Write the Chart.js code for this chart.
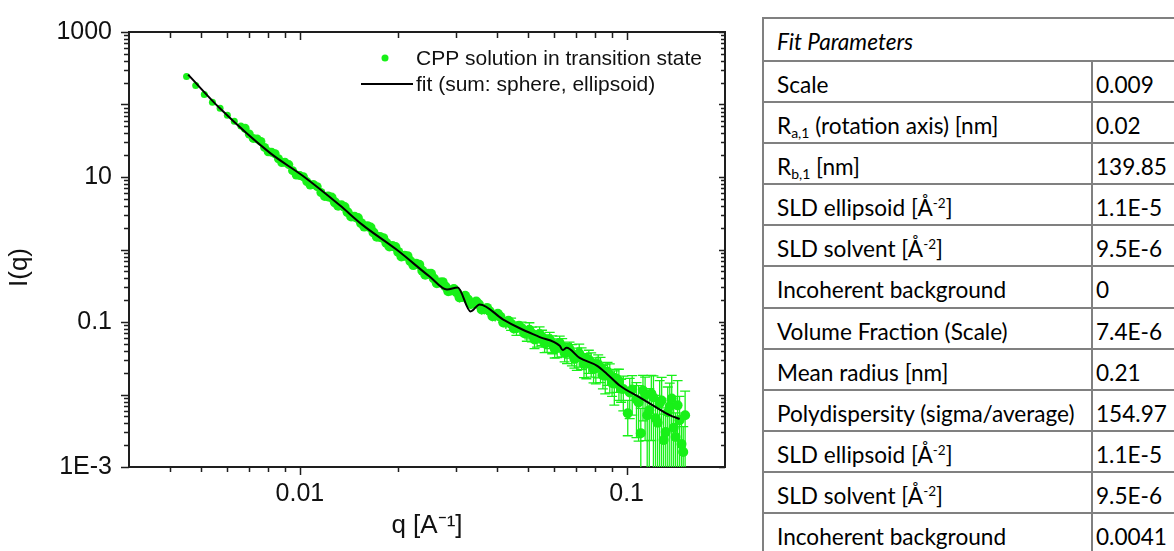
<!DOCTYPE html>
<html>
<head>
<meta charset="utf-8">
<script src="https://cdn.jsdelivr.net/npm/chart.js@4.4.1/dist/chart.umd.min.js"></script>
<style>
html,body{margin:0;padding:0;background:#fff;width:1174px;height:551px;overflow:hidden;}
#wrap{position:absolute;left:0;top:0;width:740px;height:551px;}
#tbl{position:absolute;left:762px;top:17px;display:grid;grid-template-columns:327px 120px;grid-template-rows:41px repeat(12,39.1px);gap:2px;padding:2px;background:#808080;font-family:Lato,'Noto Sans',sans-serif;font-size:22.6px;color:#000;}
#tbl div{background:#fff;padding:10px 0 0 13px;line-height:26px;white-space:nowrap;overflow:hidden;}
#tbl div.v{padding-left:3px;}
#tbl div.h{grid-column:1 / span 2;font-style:italic;}
#tbl sub{font-size:0.62em;vertical-align:-0.28em;line-height:0;}
#tbl sup{font-size:0.6em;vertical-align:0.6em;line-height:0;}
</style>
</head>
<body>
<div id="wrap"><canvas id="c" width="740" height="551"></canvas></div>
<div id="tbl"></div>
<script>
// ---------------- data ----------------
const qData = [
0.0045, 0.0048, 0.0051, 0.0054, 0.0057, 0.0060, 0.0063, 0.0066, 0.0068, 0.0070,
0.0072, 0.0074, 0.0076, 0.0078, 0.0080, 0.0082, 0.0084, 0.0086, 0.0088, 0.0090,
0.00925, 0.0095, 0.00975, 0.0100, 0.01025, 0.0105, 0.01075, 0.0110, 0.0113, 0.0116,
0.0119, 0.0122, 0.0125, 0.0128, 0.0131, 0.0134, 0.0137, 0.0140, 0.01435, 0.0147,
0.01505, 0.0154, 0.01575, 0.0161, 0.01645, 0.0168, 0.0172, 0.0176, 0.0180, 0.0184,
0.0188, 0.0192, 0.0196, 0.0200, 0.02045, 0.0209, 0.02135, 0.0218, 0.02225, 0.0227,
0.0232, 0.0237, 0.0242, 0.0247, 0.0252, 0.0257, 0.02625, 0.0268, 0.02735, 0.0279,
0.02845, 0.0290, 0.0296, 0.0302, 0.0308, 0.0314, 0.03205, 0.0327, 0.03335, 0.0340,
0.03465, 0.0353, 0.0360, 0.0367, 0.0374, 0.0381, 0.03885, 0.0396, 0.04035, 0.0411,
0.0419, 0.0427, 0.0435, 0.0443, 0.04515, 0.0460, 0.04685, 0.0477, 0.0486, 0.0495,
0.0504, 0.0513, 0.05225, 0.0532, 0.05415, 0.0551, 0.0561, 0.0571, 0.05815, 0.0592,
0.06025, 0.0613, 0.0624, 0.0635, 0.0646, 0.0657, 0.06685, 0.0680, 0.0692, 0.0704,
0.0716, 0.0728, 0.07405, 0.0753, 0.0766, 0.0779, 0.0792, 0.0805, 0.08185, 0.0832,
0.0846, 0.0860, 0.0874, 0.0888, 0.09025, 0.0917, 0.0932, 0.0947, 0.0962, 0.0977,
0.1008, 0.1022, 0.1040, 0.1072, 0.1088, 0.1105,
0.1122, 0.1139, 0.1156, 0.1173, 0.1190, 0.1208, 0.1226, 0.1244, 0.1262, 0.1280,
0.1298, 0.1317, 0.1336, 0.1355, 0.1374, 0.1393, 0.1412, 0.1432, 0.1452, 0.1472,
0.1490, 0.1510];
const iData = [
242.8, 182.9, 137.8, 107.2, 88.7, 71.2, 58.9, 50.4, 47.1, 39.2,
34.1, 33.5, 31.0, 25.6, 22.3, 21.9, 20.95, 17.84, 15.87, 15.98,
14.82, 12.23, 10.63, 10.45, 10.08, 8.65, 7.76, 7.87, 7.36, 6.12,
5.40, 5.40, 5.21, 4.47, 4.01, 4.07, 3.86, 3.26, 2.855, 2.83,
2.71, 2.31, 2.07, 2.10, 2.01, 1.712, 1.499, 1.486, 1.434, 1.231,
1.104, 1.120, 1.080, 0.927, 0.801, 0.818, 0.810, 0.688, 0.609, 0.636,
0.615, 0.510, 0.4476, 0.464, 0.4635, 0.397, 0.343, 0.350, 0.3546, 0.308,
0.2663, 0.272, 0.2844, 0.255, 0.2187, 0.2216, 0.2301, 0.2049, 0.1770, 0.1806,
0.1921, 0.1751, 0.1489, 0.1496, 0.1566, 0.1405, 0.1204, 0.1220, 0.1296, 0.1181,
0.0989, 0.0978, 0.1040, 0.0948, 0.0813, 0.0823, 0.0889, 0.0823, 0.0700, 0.0703,
0.0781, 0.0692, 0.0574, 0.0601, 0.0684, 0.0620, 0.0506, 0.0522, 0.0575, 0.0505,
0.0426, 0.0453, 0.0511, 0.0460, 0.0375, 0.0387, 0.0423, 0.0369, 0.0308, 0.0325,
0.0367, 0.0330, 0.0263, 0.0265, 0.0302, 0.0274, 0.0223, 0.0230, 0.0261, 0.0236,
0.01845, 0.0182, 0.02055, 0.0185, 0.01440, 0.01414, 0.01647, 0.01529, 0.01202, 0.01193,
0.00550, 0.01065, 0.01170, 0.00855, 0.00777, 0.00293,
0.01134, 0.00981, 0.00516, 0.00604, 0.01032, 0.00910, 0.00470, 0.00408, 0.00753, 0.00828,
0.00235, 0.00303, 0.00568, 0.00686, 0.00882, 0.00348, 0.00259, 0.00708, 0.00441, 0.00207,
0.00161, 0.00516];
const iErr = [
5, 4, 3, 2.5, 2, 1.6, 1.3, 1.1, 1.2, 0.9,
0.85, 0.8, 0.78, 0.6, 0.56, 0.5, 0.52, 0.45, 0.4, 0.4,
0.37, 0.35, 0.27, 0.4, 0.7, 0.35, 0.54, 0.35, 0.52, 0.3,
0.38, 0.3, 0.36, 0.25, 0.28, 0.25, 0.27, 0.2, 0.2, 0.2,
0.19, 0.17, 0.145, 0.16, 0.14, 0.14, 0.105, 0.12, 0.1, 0.1,
0.077, 0.1, 0.076, 0.08, 0.08, 0.075, 0.081, 0.065, 0.061, 0.06,
0.062, 0.05, 0.045, 0.048, 0.046, 0.042, 0.034, 0.038, 0.035, 0.035,
0.027, 0.032, 0.028, 0.03, 0.033, 0.028, 0.035, 0.026, 0.027, 0.024,
0.029, 0.024, 0.022, 0.022, 0.023, 0.021, 0.018, 0.02, 0.019, 0.02,
0.015, 0.018, 0.016, 0.018, 0.012, 0.017, 0.013, 0.017, 0.0105, 0.016,
0.0195, 0.016, 0.0144, 0.015, 0.017, 0.015, 0.0127, 0.014, 0.0144, 0.014,
0.0107, 0.013, 0.0128, 0.013, 0.0094, 0.012, 0.0106, 0.012, 0.0077, 0.011,
0.0128, 0.011, 0.0092, 0.01, 0.0106, 0.01, 0.0078, 0.009, 0.0091, 0.009,
0.0065, 0.008, 0.0072, 0.008, 0.005, 0.007, 0.0058, 0.007, 0.0042, 0.006,
0.0028, 0.006, 0.0065, 0.006, 0.0055, 0.0035,
0.007, 0.0075, 0.0055, 0.006, 0.008, 0.009, 0.005, 0.0045, 0.008, 0.009,
0.003, 0.0035, 0.007, 0.0075, 0.0095, 0.004, 0.003, 0.0085, 0.005, 0.003,
0.002, 0.006];

const fitQ = [0.00455, 0.00569, 0.0081, 0.0102, 0.01325, 0.01558, 0.0198, 0.025, 0.0282, 0.0304,
  0.0333, 0.0355, 0.0418, 0.0471, 0.0542, 0.0624, 0.0637, 0.0655, 0.0718, 0.081,
  0.0869, 0.0952, 0.1096, 0.1235, 0.1354, 0.1453];
const fitI = [258, 88.7, 21.5, 10.4, 4.07, 2.17, 0.99, 0.42, 0.28, 0.30,
  0.14, 0.175, 0.109, 0.082, 0.062, 0.047, 0.041, 0.044, 0.032, 0.025,
  0.0194, 0.0133, 0.0091, 0.0066, 0.0052, 0.0046];

const seriesLabels = ['CPP solution in transition state', 'fit (sum: sphere, ellipsoid)'];
const xTickValues = [0.01, 0.1];
const xTickLabels = ['0.01', '0.1'];
const yTickValues = [1000, 10, 0.1, 0.001];
const yTickLabels = ['1000', '10', '0.1', '1E-3'];
const xRange = [0.003, 0.2];
const yRange = [0.001, 1000];
const xTitle = 'q [A\u207B\u00B9]';
const yTitle = 'I(q)';

const paramNames = ['Scale', 'R<sub>a,1</sub> (rotation axis) [nm]', 'R<sub>b,1</sub> [nm]',
  'SLD ellipsoid [Å<sup>-2</sup>]', 'SLD solvent [Å<sup>-2</sup>]', 'Incoherent background',
  'Volume Fraction (Scale)', 'Mean radius [nm]', 'Polydispersity (sigma/average)',
  'SLD ellipsoid [Å<sup>-2</sup>]', 'SLD solvent [Å<sup>-2</sup>]', 'Incoherent background'];
const paramValues = ['0.009', '0.02', '139.85', '1.1E-5', '9.5E-6', '0', '7.4E-6', '0.21',
  '154.97', '1.1E-5', '9.5E-6', '0.0041'];
const tableTitle = 'Fit Parameters';

// ---------------- table ----------------
let html = '<div class="h">' + tableTitle + '</div>';
paramNames.forEach((n, i) => { html += '<div>' + n + '</div><div class="v">' + paramValues[i] + '</div>'; });
document.getElementById('tbl').innerHTML = html;

// ---------------- chart ----------------
const GREEN = 'rgb(24,240,24)';
const AXIS = '#1e1e1e';
const FONT = "'Liberation Sans', Arial, sans-serif";

function logMinor(lo, hi) {
  const out = [];
  for (let e = Math.floor(Math.log10(lo)); e <= Math.ceil(Math.log10(hi)); e++) {
    for (let m = 2; m <= 9; m++) {
      const v = m * Math.pow(10, e);
      if (v > lo * 1.0001 && v < hi * 0.9999) out.push(v);
    }
  }
  return out;
}
function logMajor(lo, hi) {
  const out = [];
  for (let e = Math.ceil(Math.log10(lo) - 1e-9); e <= Math.floor(Math.log10(hi) + 1e-9); e++) out.push(Math.pow(10, e));
  return out;
}

const decor = {
  id: 'decor',
  beforeDatasetsDraw(chart) {
    const {ctx, chartArea: a, scales: {x, y}} = chart;
    ctx.save();
    ctx.beginPath();
    ctx.rect(a.left, a.top, a.right - a.left, a.bottom - a.top);
    ctx.clip();
    ctx.strokeStyle = GREEN;
    ctx.lineWidth = 1.3;
    for (let i = 0; i < qData.length; i++) {
      const px = x.getPixelForValue(qData[i]);
      const top = y.getPixelForValue(iData[i] + iErr[i]);
      const lo = iData[i] - iErr[i];
      const bot = lo > 0 ? y.getPixelForValue(lo) : a.bottom + 5;
      ctx.beginPath();
      ctx.moveTo(px, top); ctx.lineTo(px, bot);
      if (bot - top > 12) {
        ctx.moveTo(px - 5, top); ctx.lineTo(px + 5, top);
        if (lo > 0) { ctx.moveTo(px - 5, bot); ctx.lineTo(px + 5, bot); }
      }
      ctx.stroke();
    }
    ctx.restore();
  },
  afterDraw(chart) {
    const {ctx, chartArea: a, scales: {x, y}} = chart;
    ctx.save();
    ctx.strokeStyle = AXIS;
    ctx.lineWidth = 2;
    ctx.beginPath();
    ctx.moveTo(a.left - 1, a.top); ctx.lineTo(a.right, a.top); ctx.lineTo(a.right, a.bottom + 1);
    ctx.stroke();
    ctx.lineWidth = 1.5;
    const MAJ = 8, MIN = 5, IMAJ = 6, IMIN = 4;
    const xMaj = logMajor(xRange[0], xRange[1]), xMin = logMinor(xRange[0], xRange[1]);
    const yMaj = logMajor(yRange[0], yRange[1]), yMin = logMinor(yRange[0], yRange[1]);
    ctx.beginPath();
    const xt = (v, len, ilen) => {
      const p = Math.round(x.getPixelForValue(v)) + 0.5;
      ctx.moveTo(p, a.bottom); ctx.lineTo(p, a.bottom + len);
      ctx.moveTo(p, a.top); ctx.lineTo(p, a.top + ilen + 2);
    };
    const yt = (v, len, ilen) => {
      const p = Math.round(y.getPixelForValue(v)) + 0.5;
      ctx.moveTo(a.left, p); ctx.lineTo(a.left - len, p);
      ctx.moveTo(a.right, p); ctx.lineTo(a.right - ilen, p);
    };
    xMaj.forEach(v => xt(v, MAJ, IMAJ));
    xMin.forEach(v => xt(v, MIN, IMIN));
    yMaj.forEach(v => yt(v, MAJ, IMAJ));
    yMin.forEach(v => yt(v, MIN, IMIN));
    ctx.stroke();
    // y axis title
    ctx.fillStyle = '#111';
    ctx.font = '26px ' + FONT;
    ctx.textAlign = 'center';
    ctx.textBaseline = 'middle';
    ctx.save();
    ctx.translate(a.left - 109, (a.top + a.bottom) / 2 + 18);
    ctx.rotate(-Math.PI / 2);
    ctx.fillText(yTitle, 0, 0);
    ctx.restore();
    // legend
    const ds = chart.data.datasets;
    const tx = a.right - 309;
    ctx.font = '21px ' + FONT;
    ctx.textBaseline = 'middle';
    ctx.textAlign = 'left';
    const scat = ds.find(d => d.type === 'scatter');
    const line = ds.find(d => d.type === 'line');
    ctx.fillStyle = GREEN;
    ctx.beginPath(); ctx.arc(a.right - 340, a.top + 26, 3.5, 0, Math.PI * 2); ctx.fill();
    ctx.fillStyle = '#111';
    ctx.fillText(scat.label, tx, a.top + 27);
    ctx.strokeStyle = '#000'; ctx.lineWidth = 2;
    ctx.beginPath(); ctx.moveTo(a.right - 364, a.top + 52); ctx.lineTo(a.right - 312, a.top + 52); ctx.stroke();
    ctx.fillText(line.label, tx, a.top + 53);
    ctx.restore();
  }
};

const labelFor = (vals, labs) => (v) => {
  const k = vals.findIndex(m => Math.abs(m - v) / m < 1e-6);
  return k >= 0 ? labs[k] : '';
};

new Chart(document.getElementById('c'), {
  data: {
    datasets: [
      { type: 'line', label: seriesLabels[1], data: fitQ.map((q, i) => ({x: q, y: fitI[i]})),
        borderColor: '#000', borderWidth: 2, pointRadius: 0, cubicInterpolationMode: 'monotone', order: 0 },
      { type: 'scatter', label: seriesLabels[0], data: qData.map((q, i) => ({x: q, y: iData[i]})),
        backgroundColor: GREEN, borderWidth: 0,
        pointRadius: c => { const q = qData[c.dataIndex]; return q < 0.0067 ? 3.5 : (q < 0.012 ? 4.5 : 5); },
        order: 1 }
    ]
  },
  options: {
    responsive: false,
    animation: false,
    devicePixelRatio: 1,
    layout: { padding: { top: 28, right: 15, left: 0, bottom: 0 } },
    plugins: { legend: { display: false }, tooltip: { enabled: false } },
    scales: {
      x: {
        type: 'logarithmic', position: 'bottom', min: xRange[0], max: xRange[1],
        afterBuildTicks: s => { s.ticks = xTickValues.map(v => ({value: v})); },
        afterFit: s => { s.height = 84; },
        ticks: { callback: labelFor(xTickValues, xTickLabels), font: {family: FONT, size: 25}, color: '#111',
                 padding: 12, autoSkip: false, maxRotation: 0, minRotation: 0 },
        grid: { display: false, drawTicks: false },
        border: { display: true, color: AXIS, width: 2 },
        title: { display: true, text: xTitle, font: {family: FONT, size: 26}, color: '#111', padding: {top: 0, bottom: 10} }
      },
      y: {
        type: 'logarithmic', position: 'left', min: yRange[0], max: yRange[1],
        afterBuildTicks: s => { s.ticks = yTickValues.map(v => ({value: v})); },
        afterFit: s => { s.width = 129; },
        ticks: { callback: labelFor(yTickValues, yTickLabels), font: {family: FONT, size: 25}, color: '#111',
                 padding: 17, autoSkip: false },
        grid: { display: false, drawTicks: false },
        border: { display: true, color: AXIS, width: 2 },
        title: { display: false, text: yTitle }
      }
    }
  },
  plugins: [decor]
});
</script>
</body>
</html>
